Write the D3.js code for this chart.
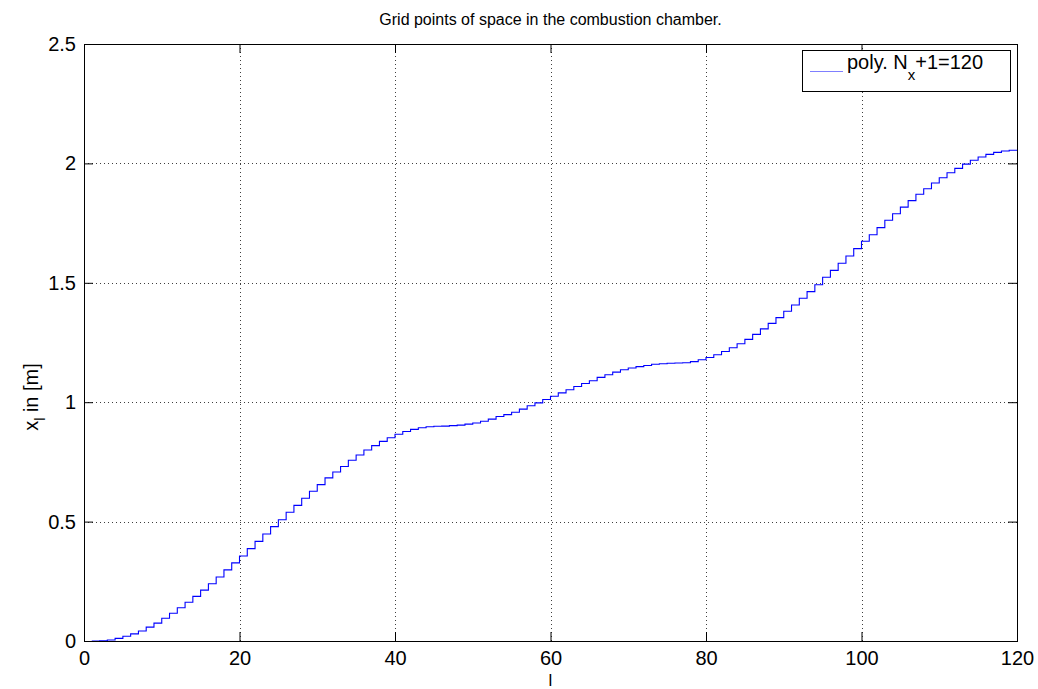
<!DOCTYPE html>
<html>
<head>
<meta charset="utf-8">
<script src="https://cdn.jsdelivr.net/npm/d3@7"></script>
<style>
  html, body { margin: 0; padding: 0; background: #fff; }
  svg { display: block; font-family: "Liberation Sans", Arial, Helvetica, sans-serif; }
</style>
</head>
<body>
<svg id="chart" width="1038" height="689"></svg>
<script>
// Grid point index l = 1..120
const gridIndex = d3.range(1, 121);

// Position of each grid point x_l in metres
const gridPosition = [
  0.000, 0.001, 0.004, 0.011, 0.020, 0.030, 0.042, 0.058, 0.075, 0.095,
  0.116, 0.139, 0.162, 0.187, 0.213, 0.240, 0.268, 0.298, 0.327, 0.356,
  0.387, 0.417, 0.448, 0.479, 0.508, 0.539, 0.568, 0.598, 0.627, 0.655,
  0.683, 0.708, 0.731, 0.757, 0.779, 0.800, 0.818, 0.836, 0.851, 0.866,
  0.877, 0.886, 0.893, 0.897, 0.899, 0.900, 0.902, 0.904, 0.908, 0.913,
  0.920, 0.929, 0.940, 0.948, 0.958, 0.971, 0.985, 0.997, 1.011, 1.025,
  1.039, 1.052, 1.066, 1.078, 1.090, 1.104, 1.115, 1.126, 1.136, 1.143,
  1.149, 1.154, 1.159, 1.161, 1.163, 1.164, 1.165, 1.170, 1.178, 1.187,
  1.199, 1.212, 1.228, 1.245, 1.263, 1.284, 1.307, 1.330, 1.354, 1.381,
  1.407, 1.435, 1.463, 1.492, 1.523, 1.552, 1.582, 1.612, 1.643, 1.674,
  1.701, 1.731, 1.762, 1.789, 1.817, 1.844, 1.871, 1.894, 1.918, 1.940,
  1.961, 1.979, 1.997, 2.013, 2.027, 2.038, 2.046, 2.052, 2.055, 2.057
];

const xTicks = [0, 20, 40, 60, 80, 100, 120];
const yTicks = [0, 0.5, 1, 1.5, 2, 2.5];
const yTickLabels = ["0", "0.5", "1", "1.5", "2", "2.5"];

const titleText = "Grid points of space in the combustion chamber.";
const legendMain = "poly. N";
const legendSub = "x";
const legendTail = "+1=120";

const svg = d3.select("#chart");
const plotLeft = 84, plotRight = 1017, plotTop = 44, plotBottom = 641;

const x = d3.scaleLinear().domain([0, 120]).range([plotLeft, plotRight]);
const y = d3.scaleLinear().domain([0, 2.5]).range([plotBottom, plotTop]);

// dotted grid
const grid = svg.append("g").attr("stroke", "#000").attr("stroke-width", 1)
  .attr("stroke-dasharray", "1,3").attr("opacity", 0.75);
xTicks.slice(1, -1).forEach(t => {
  grid.append("line").attr("x1", Math.round(x(t)) + 0.5).attr("x2", Math.round(x(t)) + 0.5)
    .attr("y1", plotTop).attr("y2", plotBottom);
});
yTicks.slice(1, -1).forEach(t => {
  grid.append("line").attr("x1", plotLeft).attr("x2", plotRight)
    .attr("y1", Math.round(y(t)) + 0.5).attr("y2", Math.round(y(t)) + 0.5);
});

// stairs line
const stairs = d3.line()
  .x((d, i) => x(gridIndex[i]))
  .y(d => y(d))
  .curve(d3.curveStepAfter);

svg.append("path")
  .datum(gridPosition)
  .attr("fill", "none")
  .attr("stroke", "#0000ff")
  .attr("stroke-width", 1.1)
  .attr("d", stairs);

// axes box with inward ticks on all four sides
const tickLen = 9;

const xAxisB = d3.axisBottom(x).tickValues(xTicks).tickSizeInner(-tickLen).tickSizeOuter(0).tickPadding(10);
const xAxisT = d3.axisTop(x).tickValues(xTicks).tickSizeInner(-tickLen).tickSizeOuter(0).tickFormat("");
const yAxisL = d3.axisLeft(y).tickValues(yTicks).tickSizeInner(-tickLen).tickSizeOuter(0).tickPadding(8)
  .tickFormat((d, i) => yTickLabels[i]);
const yAxisR = d3.axisRight(y).tickValues(yTicks).tickSizeInner(-tickLen).tickSizeOuter(0).tickFormat("");

function styleAxis(g) {
  g.select(".domain").remove();
  g.selectAll(".tick line").attr("stroke", "#000");
  g.selectAll("text").attr("font-size", 20).attr("fill", "#000")
    .attr("font-family", "'Liberation Sans', Arial, sans-serif");
}

svg.append("g").attr("transform", `translate(0,${plotBottom})`).call(xAxisB).call(styleAxis);
svg.append("g").attr("transform", `translate(0,${plotTop})`).call(xAxisT).call(styleAxis);
svg.append("g").attr("transform", `translate(${plotLeft},0)`).call(yAxisL).call(styleAxis);
svg.append("g").attr("transform", `translate(${plotRight},0)`).call(yAxisR).call(styleAxis);

svg.append("rect")
  .attr("x", plotLeft + 0.5).attr("y", plotTop + 0.5)
  .attr("width", plotRight - plotLeft).attr("height", plotBottom - plotTop)
  .attr("fill", "none").attr("stroke", "#000").attr("stroke-width", 1);

// title
svg.append("text")
  .attr("x", (plotLeft + plotRight) / 2).attr("y", 25)
  .attr("text-anchor", "middle").attr("font-size", 16)
  .text(titleText);

// x label
svg.append("text")
  .attr("x", (plotLeft + plotRight) / 2).attr("y", 686)
  .attr("text-anchor", "middle").attr("font-size", 17)
  .text("l");

// y label with subscript
const yl = svg.append("text")
  .attr("transform", "translate(38,397) rotate(-90)")
  .attr("text-anchor", "middle").attr("font-size", 20);
yl.append("tspan").text("x");
yl.append("tspan").attr("font-size", 14).attr("dy", 7).text("l");
yl.append("tspan").attr("dy", -7).text(" in [m]");

// legend
const lg = svg.append("g");
lg.append("rect")
  .attr("x", 802.5).attr("y", 50.5).attr("width", 208).attr("height", 41)
  .attr("fill", "#fff").attr("stroke", "#000").attr("stroke-width", 1);
lg.append("line")
  .attr("x1", 810).attr("x2", 843).attr("y1", 71.5).attr("y2", 71.5)
  .attr("stroke", "#7f7fff").attr("stroke-width", 1.1);
const lt = lg.append("text").attr("x", 847).attr("y", 69).attr("font-size", 20);
lt.append("tspan").text(legendMain);
lt.append("tspan").attr("font-size", 15).attr("dy", 11).text(legendSub);
lt.append("tspan").attr("dy", -11).text(legendTail);
</script>
</body>
</html>
